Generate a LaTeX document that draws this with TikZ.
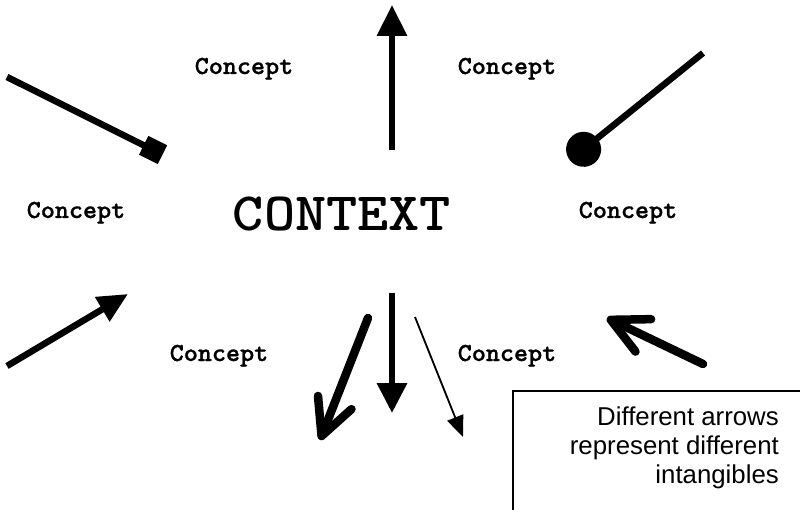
\documentclass[tikz,border=0pt]{standalone}
\usepackage{fontspec}
\setmainfont{Liberation Sans}
\newfontfamily\conceptfont{lmmonolt10-bold.otf}[FakeBold=1]
\usetikzlibrary{arrows.meta}

\tikzset{
  concept/.style={font=\conceptfont\fontsize{26}{30}\selectfont, anchor=base, inner sep=0pt, xscale=1.03},
  context/.style={font=\ttfamily\bfseries\fontsize{54}{60}\selectfont, anchor=base, inner sep=0pt, xscale=1.1},
  note/.style={font=\fontsize{25.8}{28.6}\selectfont, align=right, anchor=north east, inner sep=0pt},
  heavy/.style={line width=6.5pt},
  heavier/.style={line width=8.5pt, line cap=round},
  light/.style={line width=1.8pt}
}

\begin{document}
\begin{tikzpicture}[x=1pt,y=-1pt]
  \useasboundingbox (0,0) rectangle (800,510);

  % Draw the centre word
  \node[context] (context) at (342,231) {CONTEXT};

  % Draw the concept labels
  \node[concept] (c1) at (244,74) {Concept};
  \node[concept] (c2) at (507,74) {Concept};
  \node[concept] (c3) at (76,218) {Concept};
  \node[concept] (c4) at (628,218) {Concept};
  \node[concept] (c5) at (219,361) {Concept};
  \node[concept] (c6) at (507,361) {Concept};

  % End points of the free arrows
  \coordinate (up0) at (392,150);    \coordinate (up1) at (392,5);
  \coordinate (sq0) at (7,77);       \coordinate (sq1) at (162.5,154.7);
  \coordinate (ci0) at (703,53);     \coordinate (ci1) at (570,160.3);
  \coordinate (bl0) at (7,366);      \coordinate (bl1) at (128,294);
  \coordinate (dn0) at (392,293);    \coordinate (dn1) at (392,413);
  \coordinate (ob0) at (368,318);    \coordinate (ob1) at (320,440);
  \coordinate (th0) at (415,317);    \coordinate (th1) at (463,437);
  \coordinate (rt0) at (703,364);    \coordinate (rt1) at (607,318);

  % Draw the arrows
  \draw[heavy, -{Triangle[length=31pt,width=29pt]}] (up0) -- (up1);
  \draw[heavy, -{Square[length=21pt,width=21pt]}] (sq0) -- (sq1);
  \draw[heavy, -{Circle[length=35pt]}] (ci0) -- (ci1);
  \draw[heavy, -{Triangle[length=30pt,width=27pt]}] (bl0) -- (bl1);
  \draw[heavy, -{Triangle[length=30pt,width=29pt]}] (dn0) -- (dn1);
  \draw[heavier, -{Straight Barb[length=36pt,width=36pt,line cap=round,line join=round]}] (ob0) -- (ob1);
  \draw[light, -{Triangle[length=21pt,width=17pt]}] (th0) -- (th1);
  \draw[heavier, -{Straight Barb[length=36pt,width=36pt,line cap=round,line join=round]}] (rt0) -- (rt1);

  % Draw the note box, cut off by the page
  \begin{scope}
    \clip (0,0) rectangle (800,510);
    \draw[line width=2pt] (513,391) rectangle (830,540);
  \end{scope}
  \node[note] (note) at (779,407) {Different arrows\\represent different\\intangibles};
\end{tikzpicture}
\end{document}
